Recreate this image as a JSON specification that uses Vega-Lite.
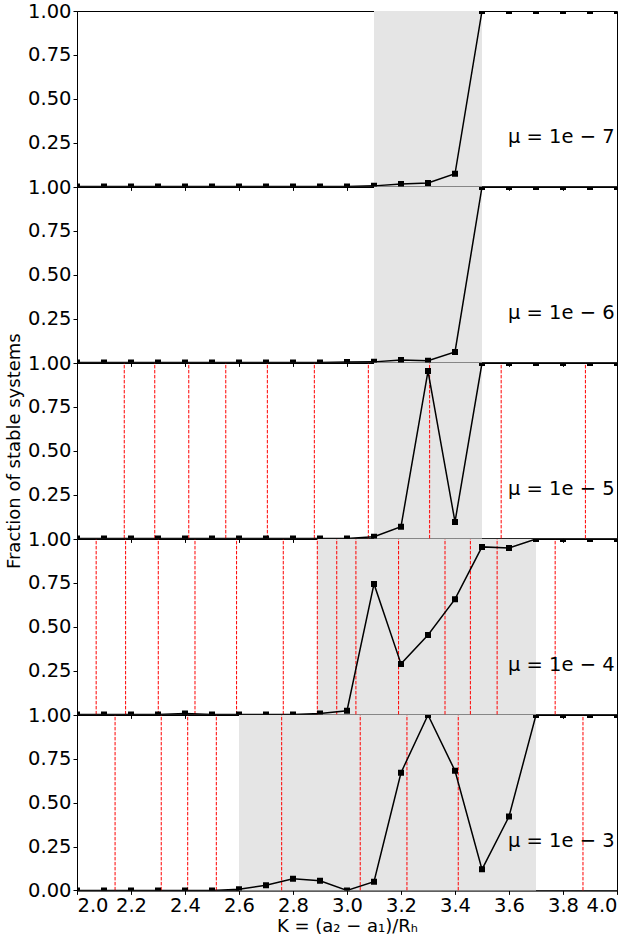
{
  "$schema": "https://vega.github.io/schema/vega-lite/v6.json",
  "padding": {"left": 5, "top": 0, "right": 4, "bottom": 6},
  "background": "white",
  "spacing": 0,
  "bounds": "flush",
  "config": {
    "view": {"stroke": "black", "strokeWidth": 1},
    "font": "DejaVu Sans",
    "axis": {
      "labelFont": "DejaVu Sans",
      "labelFontSize": 19.5,
      "labelColor": "black",
      "titleFont": "DejaVu Sans",
      "titleFontSize": 18,
      "titleFontWeight": "normal",
      "titleColor": "black",
      "tickColor": "black",
      "tickSize": 4,
      "domainColor": "black",
      "grid": false,
      "zindex": 1,
      "labelOverlap": false
    }
  },
  "datasets": {
    "curves": [
      {"panel": "1e-7", "K": 2.0, "f": 0}, {"panel": "1e-7", "K": 2.1, "f": 0}, {"panel": "1e-7", "K": 2.2, "f": 0},
      {"panel": "1e-7", "K": 2.3, "f": 0}, {"panel": "1e-7", "K": 2.4, "f": 0}, {"panel": "1e-7", "K": 2.5, "f": 0},
      {"panel": "1e-7", "K": 2.6, "f": 0}, {"panel": "1e-7", "K": 2.7, "f": 0}, {"panel": "1e-7", "K": 2.8, "f": 0},
      {"panel": "1e-7", "K": 2.9, "f": 0}, {"panel": "1e-7", "K": 3.0, "f": 0}, {"panel": "1e-7", "K": 3.1, "f": 0.003},
      {"panel": "1e-7", "K": 3.2, "f": 0.013}, {"panel": "1e-7", "K": 3.3, "f": 0.019}, {"panel": "1e-7", "K": 3.4, "f": 0.072},
      {"panel": "1e-7", "K": 3.5, "f": 1}, {"panel": "1e-7", "K": 3.6, "f": 1}, {"panel": "1e-7", "K": 3.7, "f": 1},
      {"panel": "1e-7", "K": 3.8, "f": 1}, {"panel": "1e-7", "K": 3.9, "f": 1}, {"panel": "1e-7", "K": 4.0, "f": 1},

      {"panel": "1e-6", "K": 2.0, "f": 0}, {"panel": "1e-6", "K": 2.1, "f": 0}, {"panel": "1e-6", "K": 2.2, "f": 0},
      {"panel": "1e-6", "K": 2.3, "f": 0}, {"panel": "1e-6", "K": 2.4, "f": 0}, {"panel": "1e-6", "K": 2.5, "f": 0},
      {"panel": "1e-6", "K": 2.6, "f": 0}, {"panel": "1e-6", "K": 2.7, "f": 0}, {"panel": "1e-6", "K": 2.8, "f": 0},
      {"panel": "1e-6", "K": 2.9, "f": 0}, {"panel": "1e-6", "K": 3.0, "f": 0.002}, {"panel": "1e-6", "K": 3.1, "f": 0.003},
      {"panel": "1e-6", "K": 3.2, "f": 0.014}, {"panel": "1e-6", "K": 3.3, "f": 0.01}, {"panel": "1e-6", "K": 3.4, "f": 0.06},
      {"panel": "1e-6", "K": 3.5, "f": 1}, {"panel": "1e-6", "K": 3.6, "f": 1}, {"panel": "1e-6", "K": 3.7, "f": 1},
      {"panel": "1e-6", "K": 3.8, "f": 1}, {"panel": "1e-6", "K": 3.9, "f": 1}, {"panel": "1e-6", "K": 4.0, "f": 1},

      {"panel": "1e-5", "K": 2.0, "f": 0}, {"panel": "1e-5", "K": 2.1, "f": 0}, {"panel": "1e-5", "K": 2.2, "f": 0},
      {"panel": "1e-5", "K": 2.3, "f": 0}, {"panel": "1e-5", "K": 2.4, "f": 0}, {"panel": "1e-5", "K": 2.5, "f": 0},
      {"panel": "1e-5", "K": 2.6, "f": 0}, {"panel": "1e-5", "K": 2.7, "f": 0}, {"panel": "1e-5", "K": 2.8, "f": 0},
      {"panel": "1e-5", "K": 2.9, "f": 0}, {"panel": "1e-5", "K": 3.0, "f": 0}, {"panel": "1e-5", "K": 3.1, "f": 0.01},
      {"panel": "1e-5", "K": 3.2, "f": 0.067}, {"panel": "1e-5", "K": 3.3, "f": 0.954}, {"panel": "1e-5", "K": 3.4, "f": 0.094},
      {"panel": "1e-5", "K": 3.5, "f": 1}, {"panel": "1e-5", "K": 3.6, "f": 1}, {"panel": "1e-5", "K": 3.7, "f": 1},
      {"panel": "1e-5", "K": 3.8, "f": 1}, {"panel": "1e-5", "K": 3.9, "f": 1}, {"panel": "1e-5", "K": 4.0, "f": 1},

      {"panel": "1e-4", "K": 2.0, "f": 0}, {"panel": "1e-4", "K": 2.1, "f": 0}, {"panel": "1e-4", "K": 2.2, "f": 0},
      {"panel": "1e-4", "K": 2.3, "f": 0}, {"panel": "1e-4", "K": 2.4, "f": 0.005}, {"panel": "1e-4", "K": 2.5, "f": 0},
      {"panel": "1e-4", "K": 2.6, "f": 0}, {"panel": "1e-4", "K": 2.7, "f": 0}, {"panel": "1e-4", "K": 2.8, "f": 0},
      {"panel": "1e-4", "K": 2.9, "f": 0.005}, {"panel": "1e-4", "K": 3.0, "f": 0.021}, {"panel": "1e-4", "K": 3.1, "f": 0.744},
      {"panel": "1e-4", "K": 3.2, "f": 0.288}, {"panel": "1e-4", "K": 3.3, "f": 0.453}, {"panel": "1e-4", "K": 3.4, "f": 0.657},
      {"panel": "1e-4", "K": 3.5, "f": 0.955}, {"panel": "1e-4", "K": 3.6, "f": 0.949}, {"panel": "1e-4", "K": 3.7, "f": 1},
      {"panel": "1e-4", "K": 3.8, "f": 1}, {"panel": "1e-4", "K": 3.9, "f": 1}, {"panel": "1e-4", "K": 4.0, "f": 1},

      {"panel": "1e-3", "K": 2.0, "f": 0}, {"panel": "1e-3", "K": 2.1, "f": 0}, {"panel": "1e-3", "K": 2.2, "f": 0},
      {"panel": "1e-3", "K": 2.3, "f": 0}, {"panel": "1e-3", "K": 2.4, "f": 0}, {"panel": "1e-3", "K": 2.5, "f": 0},
      {"panel": "1e-3", "K": 2.6, "f": 0.006}, {"panel": "1e-3", "K": 2.7, "f": 0.029}, {"panel": "1e-3", "K": 2.8, "f": 0.067},
      {"panel": "1e-3", "K": 2.9, "f": 0.055}, {"panel": "1e-3", "K": 3.0, "f": 0}, {"panel": "1e-3", "K": 3.1, "f": 0.05},
      {"panel": "1e-3", "K": 3.2, "f": 0.671}, {"panel": "1e-3", "K": 3.3, "f": 1}, {"panel": "1e-3", "K": 3.4, "f": 0.682},
      {"panel": "1e-3", "K": 3.5, "f": 0.12}, {"panel": "1e-3", "K": 3.6, "f": 0.421}, {"panel": "1e-3", "K": 3.7, "f": 1},
      {"panel": "1e-3", "K": 3.8, "f": 1}, {"panel": "1e-3", "K": 3.9, "f": 1}, {"panel": "1e-3", "K": 4.0, "f": 1}
    ],
    "bands": [
      {"panel": "1e-7", "k0": 3.1, "k1": 3.5},
      {"panel": "1e-6", "k0": 3.1, "k1": 3.5},
      {"panel": "1e-5", "k0": 3.1, "k1": 3.5},
      {"panel": "1e-4", "k0": 2.89, "k1": 3.7},
      {"panel": "1e-3", "k0": 2.6, "k1": 3.7}
    ],
    "resonances": [
      {"panel": "1e-5", "K": 2.175}, {"panel": "1e-5", "K": 2.288}, {"panel": "1e-5", "K": 2.414},
      {"panel": "1e-5", "K": 2.551}, {"panel": "1e-5", "K": 2.705}, {"panel": "1e-5", "K": 2.879},
      {"panel": "1e-5", "K": 3.079}, {"panel": "1e-5", "K": 3.306}, {"panel": "1e-5", "K": 3.571},
      {"panel": "1e-5", "K": 3.883},
      {"panel": "1e-4", "K": 2.071}, {"panel": "1e-4", "K": 2.18}, {"panel": "1e-4", "K": 2.301},
      {"panel": "1e-4", "K": 2.437}, {"panel": "1e-4", "K": 2.591}, {"panel": "1e-4", "K": 2.764},
      {"panel": "1e-4", "K": 2.89}, {"panel": "1e-4", "K": 2.962}, {"panel": "1e-4", "K": 3.033},
      {"panel": "1e-4", "K": 3.191}, {"panel": "1e-4", "K": 3.363}, {"panel": "1e-4", "K": 3.457},
      {"panel": "1e-4", "K": 3.556}, {"panel": "1e-4", "K": 3.771},
      {"panel": "1e-3", "K": 2.141}, {"panel": "1e-3", "K": 2.312}, {"panel": "1e-3", "K": 2.41},
      {"panel": "1e-3", "K": 2.516}, {"panel": "1e-3", "K": 2.758}, {"panel": "1e-3", "K": 3.049},
      {"panel": "1e-3", "K": 3.222}, {"panel": "1e-3", "K": 3.412}, {"panel": "1e-3", "K": 3.874}
    ],
    "labels": [
      {"panel": "1e-7", "K": 3.596, "y": 0.28, "text": "μ = 1e − 7"},
      {"panel": "1e-6", "K": 3.596, "y": 0.28, "text": "μ = 1e − 6"},
      {"panel": "1e-5", "K": 3.596, "y": 0.28, "text": "μ = 1e − 5"},
      {"panel": "1e-4", "K": 3.596, "y": 0.28, "text": "μ = 1e − 4"},
      {"panel": "1e-3", "K": 3.596, "y": 0.28, "text": "μ = 1e − 3"}
    ]
  },
  "vconcat": [
    {
      "width": 540, "height": 175.4,
      "layer": [
        {"data": {"name": "bands"}, "transform": [{"filter": "datum.panel === '1e-7'"}],
         "mark": {"type": "rect", "color": "#e5e5e5"},
         "encoding": {
           "x": {"field": "k0", "type": "quantitative", "scale": {"domain": [2, 4], "nice": false},
                 "axis": {"values": [2.0, 2.2, 2.4, 2.6, 2.8, 3.0, 3.2, 3.4, 3.6, 3.8, 4.0], "labels": false, "title": null}},
           "x2": {"field": "k1"},
           "y": {"datum": 0, "type": "quantitative", "scale": {"domain": [0, 1], "nice": false},
                 "axis": {"values": [0.25, 0.5, 0.75, 1], "format": ".2f", "title": null}},
           "y2": {"datum": 1}
         }},
        {"data": {"name": "curves"}, "transform": [{"filter": "datum.panel === '1e-7'"}],
         "mark": {"type": "line", "color": "black", "strokeWidth": 1.5, "clip": true},
         "encoding": {"x": {"field": "K", "type": "quantitative"}, "y": {"field": "f", "type": "quantitative"}}},
        {"data": {"name": "curves"}, "transform": [{"filter": "datum.panel === '1e-7'"}],
         "mark": {"type": "point", "shape": "square", "filled": true, "color": "black", "size": 36, "opacity": 1, "clip": true},
         "encoding": {"x": {"field": "K", "type": "quantitative"}, "y": {"field": "f", "type": "quantitative"}}},
        {"data": {"name": "labels"}, "transform": [{"filter": "datum.panel === '1e-7'"}],
         "mark": {"type": "text", "align": "left", "baseline": "middle", "fontSize": 19.5, "font": "DejaVu Sans", "color": "black"},
         "encoding": {"x": {"field": "K", "type": "quantitative"}, "y": {"field": "y", "type": "quantitative"}, "text": {"field": "text"}}}
      ]
    },
    {
      "width": 540, "height": 175.4,
      "layer": [
        {"data": {"name": "bands"}, "transform": [{"filter": "datum.panel === '1e-6'"}],
         "mark": {"type": "rect", "color": "#e5e5e5"},
         "encoding": {
           "x": {"field": "k0", "type": "quantitative", "scale": {"domain": [2, 4], "nice": false},
                 "axis": {"values": [2.0, 2.2, 2.4, 2.6, 2.8, 3.0, 3.2, 3.4, 3.6, 3.8, 4.0], "labels": false, "title": null}},
           "x2": {"field": "k1"},
           "y": {"datum": 0, "type": "quantitative", "scale": {"domain": [0, 1], "nice": false},
                 "axis": {"values": [0.25, 0.5, 0.75, 1], "format": ".2f", "title": null}},
           "y2": {"datum": 1}
         }},
        {"data": {"name": "curves"}, "transform": [{"filter": "datum.panel === '1e-6'"}],
         "mark": {"type": "line", "color": "black", "strokeWidth": 1.5, "clip": true},
         "encoding": {"x": {"field": "K", "type": "quantitative"}, "y": {"field": "f", "type": "quantitative"}}},
        {"data": {"name": "curves"}, "transform": [{"filter": "datum.panel === '1e-6'"}],
         "mark": {"type": "point", "shape": "square", "filled": true, "color": "black", "size": 36, "opacity": 1, "clip": true},
         "encoding": {"x": {"field": "K", "type": "quantitative"}, "y": {"field": "f", "type": "quantitative"}}},
        {"data": {"name": "labels"}, "transform": [{"filter": "datum.panel === '1e-6'"}],
         "mark": {"type": "text", "align": "left", "baseline": "middle", "fontSize": 19.5, "font": "DejaVu Sans", "color": "black"},
         "encoding": {"x": {"field": "K", "type": "quantitative"}, "y": {"field": "y", "type": "quantitative"}, "text": {"field": "text"}}}
      ]
    },
    {
      "width": 540, "height": 175.4,
      "layer": [
        {"data": {"name": "bands"}, "transform": [{"filter": "datum.panel === '1e-5'"}],
         "mark": {"type": "rect", "color": "#e5e5e5"},
         "encoding": {
           "x": {"field": "k0", "type": "quantitative", "scale": {"domain": [2, 4], "nice": false},
                 "axis": {"values": [2.0, 2.2, 2.4, 2.6, 2.8, 3.0, 3.2, 3.4, 3.6, 3.8, 4.0], "labels": false, "title": null}},
           "x2": {"field": "k1"},
           "y": {"datum": 0, "type": "quantitative", "scale": {"domain": [0, 1], "nice": false},
                 "axis": {"values": [0.25, 0.5, 0.75, 1], "format": ".2f", "title": "Fraction of stable systems", "titlePadding": 4}},
           "y2": {"datum": 1}
         }},
        {"data": {"name": "resonances"}, "transform": [{"filter": "datum.panel === '1e-5'"}],
         "mark": {"type": "rule", "color": "red", "strokeWidth": 1, "strokeDash": [3.5, 1.5]},
         "encoding": {"x": {"field": "K", "type": "quantitative"}, "y": {"datum": 0, "type": "quantitative"}, "y2": {"datum": 1}}},
        {"data": {"name": "curves"}, "transform": [{"filter": "datum.panel === '1e-5'"}],
         "mark": {"type": "line", "color": "black", "strokeWidth": 1.5, "clip": true},
         "encoding": {"x": {"field": "K", "type": "quantitative"}, "y": {"field": "f", "type": "quantitative"}}},
        {"data": {"name": "curves"}, "transform": [{"filter": "datum.panel === '1e-5'"}],
         "mark": {"type": "point", "shape": "square", "filled": true, "color": "black", "size": 36, "opacity": 1, "clip": true},
         "encoding": {"x": {"field": "K", "type": "quantitative"}, "y": {"field": "f", "type": "quantitative"}}},
        {"data": {"name": "labels"}, "transform": [{"filter": "datum.panel === '1e-5'"}],
         "mark": {"type": "text", "align": "left", "baseline": "middle", "fontSize": 19.5, "font": "DejaVu Sans", "color": "black"},
         "encoding": {"x": {"field": "K", "type": "quantitative"}, "y": {"field": "y", "type": "quantitative"}, "text": {"field": "text"}}}
      ]
    },
    {
      "width": 540, "height": 175.4,
      "layer": [
        {"data": {"name": "bands"}, "transform": [{"filter": "datum.panel === '1e-4'"}],
         "mark": {"type": "rect", "color": "#e5e5e5"},
         "encoding": {
           "x": {"field": "k0", "type": "quantitative", "scale": {"domain": [2, 4], "nice": false},
                 "axis": {"values": [2.0, 2.2, 2.4, 2.6, 2.8, 3.0, 3.2, 3.4, 3.6, 3.8, 4.0], "labels": false, "title": null}},
           "x2": {"field": "k1"},
           "y": {"datum": 0, "type": "quantitative", "scale": {"domain": [0, 1], "nice": false},
                 "axis": {"values": [0.25, 0.5, 0.75, 1], "format": ".2f", "title": null}},
           "y2": {"datum": 1}
         }},
        {"data": {"name": "resonances"}, "transform": [{"filter": "datum.panel === '1e-4'"}],
         "mark": {"type": "rule", "color": "red", "strokeWidth": 1, "strokeDash": [3.5, 1.5]},
         "encoding": {"x": {"field": "K", "type": "quantitative"}, "y": {"datum": 0, "type": "quantitative"}, "y2": {"datum": 1}}},
        {"data": {"name": "curves"}, "transform": [{"filter": "datum.panel === '1e-4'"}],
         "mark": {"type": "line", "color": "black", "strokeWidth": 1.5, "clip": true},
         "encoding": {"x": {"field": "K", "type": "quantitative"}, "y": {"field": "f", "type": "quantitative"}}},
        {"data": {"name": "curves"}, "transform": [{"filter": "datum.panel === '1e-4'"}],
         "mark": {"type": "point", "shape": "square", "filled": true, "color": "black", "size": 36, "opacity": 1, "clip": true},
         "encoding": {"x": {"field": "K", "type": "quantitative"}, "y": {"field": "f", "type": "quantitative"}}},
        {"data": {"name": "labels"}, "transform": [{"filter": "datum.panel === '1e-4'"}],
         "mark": {"type": "text", "align": "left", "baseline": "middle", "fontSize": 19.5, "font": "DejaVu Sans", "color": "black"},
         "encoding": {"x": {"field": "K", "type": "quantitative"}, "y": {"field": "y", "type": "quantitative"}, "text": {"field": "text"}}}
      ]
    },
    {
      "width": 540, "height": 175.4,
      "layer": [
        {"data": {"name": "bands"}, "transform": [{"filter": "datum.panel === '1e-3'"}],
         "mark": {"type": "rect", "color": "#e5e5e5"},
         "encoding": {
           "x": {"field": "k0", "type": "quantitative", "scale": {"domain": [2, 4], "nice": false},
                 "axis": {"values": [2.0, 2.2, 2.4, 2.6, 2.8, 3.0, 3.2, 3.4, 3.6, 3.8, 4.0], "format": ".1f",
                          "title": "K = (a₂ − a₁)/Rₕ", "titlePadding": 3, "labelPadding": 2}},
           "x2": {"field": "k1"},
           "y": {"datum": 0, "type": "quantitative", "scale": {"domain": [0, 1], "nice": false},
                 "axis": {"values": [0, 0.25, 0.5, 0.75, 1], "format": ".2f", "title": null}},
           "y2": {"datum": 1}
         }},
        {"data": {"name": "resonances"}, "transform": [{"filter": "datum.panel === '1e-3'"}],
         "mark": {"type": "rule", "color": "red", "strokeWidth": 1, "strokeDash": [3.5, 1.5]},
         "encoding": {"x": {"field": "K", "type": "quantitative"}, "y": {"datum": 0, "type": "quantitative"}, "y2": {"datum": 1}}},
        {"data": {"name": "curves"}, "transform": [{"filter": "datum.panel === '1e-3'"}],
         "mark": {"type": "line", "color": "black", "strokeWidth": 1.5, "clip": true},
         "encoding": {"x": {"field": "K", "type": "quantitative"}, "y": {"field": "f", "type": "quantitative"}}},
        {"data": {"name": "curves"}, "transform": [{"filter": "datum.panel === '1e-3'"}],
         "mark": {"type": "point", "shape": "square", "filled": true, "color": "black", "size": 36, "opacity": 1, "clip": true},
         "encoding": {"x": {"field": "K", "type": "quantitative"}, "y": {"field": "f", "type": "quantitative"}}},
        {"data": {"name": "labels"}, "transform": [{"filter": "datum.panel === '1e-3'"}],
         "mark": {"type": "text", "align": "left", "baseline": "middle", "fontSize": 19.5, "font": "DejaVu Sans", "color": "black"},
         "encoding": {"x": {"field": "K", "type": "quantitative"}, "y": {"field": "y", "type": "quantitative"}, "text": {"field": "text"}}}
      ]
    }
  ]
}
